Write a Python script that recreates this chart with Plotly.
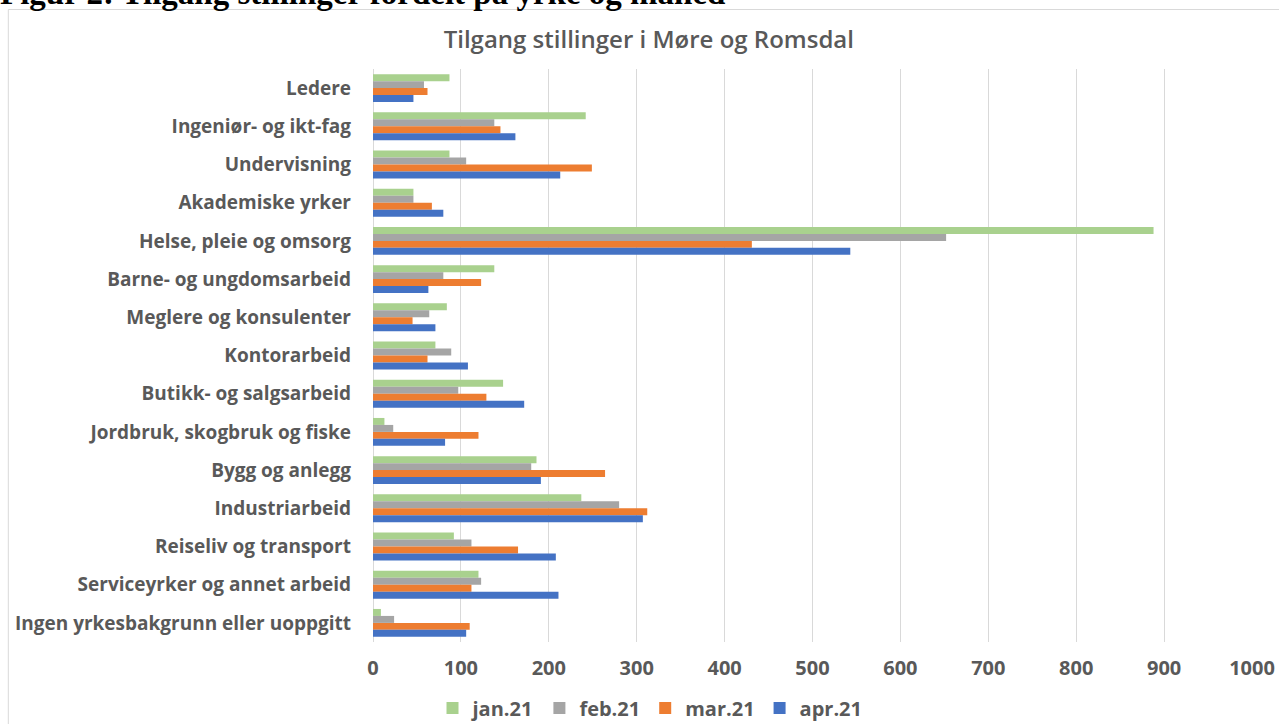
import plotly.graph_objects as go

categories = [
    "Ledere",
    "Ingeniør- og ikt-fag",
    "Undervisning",
    "Akademiske yrker",
    "Helse, pleie og omsorg",
    "Barne- og ungdomsarbeid",
    "Meglere og konsulenter",
    "Kontorarbeid",
    "Butikk- og salgsarbeid",
    "Jordbruk, skogbruk og fiske",
    "Bygg og anlegg",
    "Industriarbeid",
    "Reiseliv og transport",
    "Serviceyrker og annet arbeid",
    "Ingen yrkesbakgrunn eller uoppgitt",
]

jan21 = [87, 242, 87, 46, 888, 138, 84, 71, 148, 13, 186, 237, 92, 120, 9]
feb21 = [58, 138, 106, 46, 652, 80, 64, 89, 97, 23, 180, 280, 112, 123, 24]
mar21 = [62, 145, 249, 67, 431, 123, 45, 62, 129, 120, 264, 312, 165, 112, 110]
apr21 = [46, 162, 213, 80, 543, 63, 71, 108, 172, 82, 191, 307, 208, 211, 106]

series_names = ["jan.21", "feb.21", "mar.21", "apr.21"]
series_values = [jan21, feb21, mar21, apr21]
series_colors = ["#A9D18E", "#A5A5A5", "#ED7D31", "#4472C4"]

x_ticks = [0, 100, 200, 300, 400, 500, 600, 700, 800, 900, 1000]

fig = go.Figure()
for name, vals, col in zip(series_names, series_values, series_colors):
    fig.add_trace(go.Bar(
        y=categories, x=vals, name=name, orientation="h",
        marker=dict(color=col, line=dict(width=0)),
    ))

W, H = 1279, 724
L, R, T, B = 373.4, 1251.7, 69, 642

def px_x(p):
    return (p - L) / (R - L)

def px_y(p):
    return (B - p) / (B - T)

fig.update_layout(
    width=W, height=H,
    margin=dict(l=L, r=W - R, t=T, b=H - B, pad=0, autoexpand=False),
    paper_bgcolor="white", plot_bgcolor="white",
    barmode="group", bargap=0.27, bargroupgap=0,
    showlegend=True,
    legend=dict(
        orientation="h", xref="container", x=650 / W, xanchor="center",
        yref="container", y=1 - 708 / H, yanchor="middle",
        font=dict(family="Open Sans", size=20, color="#595959", weight="bold"),
        itemwidth=30, tracegroupgap=0,
        traceorder="normal",
    ),
    title=dict(
        text="Tilgang stillinger i Møre og Romsdal",
        x=px_x(649), xanchor="center", xref="paper",
        y=1 - 40 / H, yanchor="middle",
        font=dict(family="Open Sans", size=24, color="#595959", weight=600),
    ),
    xaxis=dict(
        range=[0, 1000], tickvals=x_ticks,
        showgrid=True, gridcolor="#D9D9D9", gridwidth=1,
        zeroline=True, zerolinecolor="#D9D9D9", zerolinewidth=1,
        showline=False, ticks="",
        tickfont=dict(family="Open Sans", size=20, color="#595959", weight="bold"),
        ticklabelstandoff=12,
        fixedrange=True,
    ),
    yaxis=dict(
        autorange="reversed", type="category",
        showgrid=False, zeroline=False, showline=False, ticks="",
        tickfont=dict(family="Open Sans", size=19, color="#595959", weight="bold"),
        ticklabelstandoff=21,
        fixedrange=True,
    ),
    shapes=[dict(
        type="rect", xref="paper", yref="paper",
        x0=px_x(9), x1=px_x(1300), y0=px_y(740), y1=px_y(9.5),
        line=dict(color="#D9D9D9", width=1), fillcolor="rgba(0,0,0,0)",
        layer="below",
    )],
    annotations=[dict(
        text="<b>Figur 2: Tilgang stillinger fordelt på yrke og måned</b>",
        xref="paper", yref="paper", x=px_x(0), xanchor="left",
        y=px_y(12), yanchor="bottom", showarrow=False,
        font=dict(family="Liberation Serif", size=33, color="black"),
        borderpad=0,
    )],
)

fig.write_html(
    "out.html",
    config={"displayModeBar": False},
    post_script="document.body.style.margin='0';document.body.style.overflow='hidden';",
)
